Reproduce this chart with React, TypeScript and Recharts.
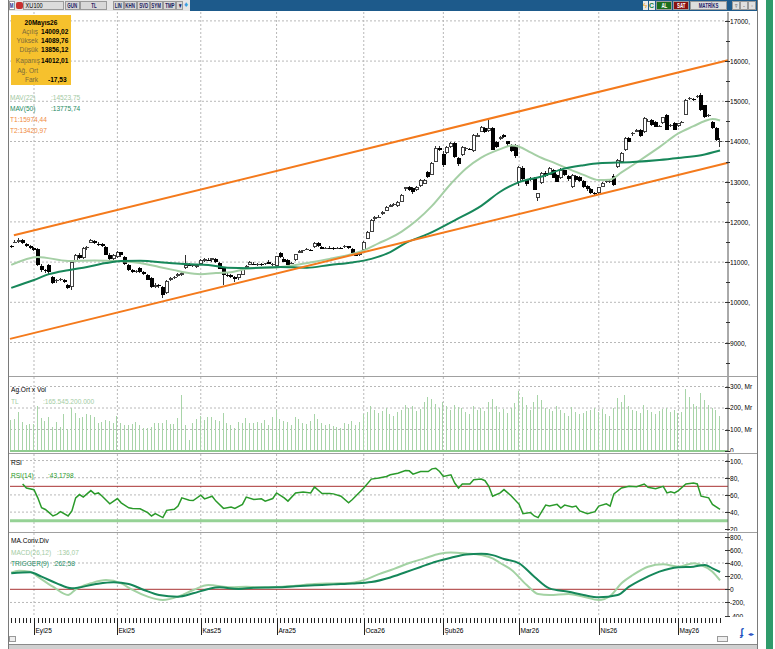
import React from 'react';
import { ComposedChart, Bar, Line, XAxis, YAxis, CartesianGrid, ReferenceLine } from 'recharts';

const FONT = "'Liberation Sans', Arial, sans-serif";
const SX = 0.82; // horizontal condense factor for the narrow UI font

// ---------------- categories ----------------
const monthStarts = [6, 28, 50, 70, 93, 114, 134, 155, 176];
const monthLabels = ['Eyl25', 'Eki25', 'Kas25', 'Ara25', 'Oca26', 'Şub26', 'Mar26', 'Nis26', 'May26'];

// ---------------- OHLC (XU100, daily) ----------------
const opens = [
  11400, 11480, 11520, 11540, 11460, 11400,
  11350, 11320, 10900, 10800, 10920, 10640, 10520, 10560, 10560, 10440, 10380, 11040, 11180, 11100, 11360, 11480, 11520, 11450, 11440, 11380, 11180, 11080,
  11120, 11240, 11120, 10930, 10800, 10780, 10850, 10760, 10680, 10600, 10380, 10420, 10380, 10240, 10560, 10600, 10640, 10700, 10860, 10940, 10920, 10880,
  10960, 11030, 11060, 11050, 11080, 10990, 10860, 10690, 10680, 10640, 10590, 10690, 10850, 10930, 10960, 10950, 10960, 10950, 11000, 10940,
  10890, 11230, 11080, 11050, 10960, 11050, 11230, 11260, 11300, 11310, 11380, 11480, 11380, 11340, 11360, 11350, 11330, 11350, 11370, 11390, 11320, 11210, 11180,
  11290, 11580, 11760, 12060, 12120, 12180, 12280, 12380, 12420, 12400, 12500, 12800, 12870, 12840, 12790, 12890, 12960, 13240, 13170, 13490, 13850,
  13700, 13710, 13870, 13960, 13590, 13660, 13800, 13810, 13750, 14120, 14240, 14340, 14260, 14340, 13990, 14060, 14160, 14000, 13900, 13910,
  12990, 13340, 13040, 13050, 13090, 12600, 12970, 13220, 13170, 13290, 13170, 13110, 13290, 13130, 12870, 13130, 13110, 13020, 12890, 12820, 12710,
  12720, 12890, 12980, 13000, 13150, 13370, 13490, 13790, 14090, 14180, 14240, 14290, 14240, 14500, 14530, 14480, 14380, 14460, 14660, 14380, 14460,
  14380, 14470, 14660, 15050, 15060, 15110, 15150, 14900, 14640, 14490, 14340, 14009.02,
];
const highs = [
  11430, 11540, 11600, 11570, 11480, 11420,
  11380, 11340, 10950, 10840, 10960, 10660, 10580, 10600, 10580, 10460, 11020, 11200, 11230, 11370, 11400, 11580, 11540, 11500, 11470, 11400, 11220, 11200,
  11270, 11260, 11140, 10950, 10830, 10810, 10880, 10790, 10700, 10620, 10470, 10450, 10400, 10560, 10640, 10650, 10720, 10760, 11180, 10970, 10960, 10950,
  11080, 11100, 11090, 11110, 11100, 11010, 10880, 10720, 10700, 10660, 10710, 10860, 10920, 11020, 11000, 10990, 10990, 10990, 11040, 10980,
  11160, 11260, 11120, 11070, 11000, 11210, 11290, 11310, 11340, 11330, 11500, 11510, 11400, 11380, 11390, 11380, 11370, 11380, 11420, 11410, 11340, 11240, 11250,
  11520, 11770, 12060, 12150, 12160, 12260, 12390, 12440, 12470, 12520, 12690, 12880, 12900, 12880, 12890, 13060, 13070, 13270, 13480, 13880, 13900,
  13760, 13880, 13990, 13990, 13620, 13880, 13860, 13840, 14180, 14200, 14380, 14370, 14540, 14360, 14010, 14140, 14180, 14020, 13930, 13930,
  13400, 13380, 13070, 13120, 13110, 12730, 13240, 13260, 13360, 13310, 13190, 13350, 13300, 13160, 13190, 13160, 13130, 13040, 12930, 12840, 12740,
  12880, 13000, 13030, 13040, 13180, 13560, 13740, 14110, 14110, 14240, 14300, 14310, 14620, 14560, 14560, 14500, 14420, 14620, 14680, 14430, 14480,
  14470, 14500, 15050, 15110, 15090, 15160, 15200, 14920, 14680, 14510, 14360, 14089.76,
];
const lows = [
  11360, 11460, 11480, 11440, 11380, 11320,
  11280, 10880, 10760, 10740, 10720, 10460, 10480, 10520, 10480, 10330, 10300, 11020, 11080, 11080, 11300, 11470, 11440, 11400, 11360, 11170, 11040, 11060,
  11100, 11140, 10920, 10780, 10740, 10740, 10730, 10700, 10540, 10350, 10340, 10360, 10100, 10200, 10540, 10580, 10620, 10660, 10830, 10900, 10890, 10860,
  10940, 11010, 11010, 11020, 10980, 10830, 10430, 10620, 10600, 10500, 10570, 10680, 10820, 10910, 10920, 10910, 10920, 10930, 10940, 10900,
  10870, 11120, 10990, 10910, 10940, 11030, 11220, 11240, 11290, 11270, 11360, 11390, 11320, 11320, 11330, 11300, 11310, 11320, 11350, 11330, 11190, 11140, 11160,
  11270, 11560, 11740, 12020, 12080, 12160, 12260, 12360, 12390, 12380, 12480, 12780, 12770, 12700, 12770, 12870, 12940, 13100, 13150, 13470, 13780,
  13350, 13690, 13850, 13580, 13400, 13640, 13770, 13780, 13720, 14100, 14220, 14220, 14240, 13780, 13840, 14040, 14080, 13900, 13740, 13590,
  12900, 13020, 12900, 13020, 12780, 12540, 12950, 13120, 13150, 13080, 12980, 13080, 13150, 13020, 12850, 12990, 12980, 12850, 12790, 12700, 12650,
  12700, 12870, 12960, 12970, 12890, 13340, 13470, 13770, 13980, 14150, 14220, 14120, 14220, 14480, 14390, 14340, 14360, 14440, 14270, 14360, 14270,
  14360, 14440, 14640, 15030, 15020, 15090, 14760, 14590, 14610, 14320, 14010, 13856.12,
];
const closes = [
  11390, 11500, 11560, 11470, 11400, 11340,
  11310, 10930, 10790, 10780, 10740, 10490, 10550, 10570, 10510, 10370, 11000, 11180, 11100, 11350, 11380, 11550, 11460, 11430, 11380, 11190, 11070, 11170,
  11250, 11160, 10940, 10800, 10760, 10790, 10750, 10720, 10560, 10370, 10440, 10400, 10180, 10540, 10600, 10620, 10700, 10740, 10940, 10930, 10940, 10920,
  11060, 11080, 11030, 11090, 11000, 10850, 10690, 10660, 10640, 10580, 10700, 10840, 10900, 11000, 10950, 10960, 10940, 10970, 10960, 10950,
  11150, 11130, 11010, 10930, 10980, 11200, 11270, 11290, 11320, 11300, 11480, 11400, 11340, 11360, 11350, 11340, 11350, 11330, 11400, 11350, 11210, 11170, 11230,
  11500, 11750, 12050, 12120, 12130, 12240, 12370, 12420, 12450, 12500, 12670, 12860, 12790, 12730, 12870, 13030, 13050, 13120, 13460, 13840, 13810,
  13430, 13860, 13960, 13600, 13430, 13860, 13830, 13800, 14160, 14170, 14360, 14250, 14340, 13800, 13860, 14110, 14110, 13920, 13780, 13640,
  13370, 13060, 12930, 13100, 12800, 12720, 13220, 13150, 13340, 13100, 13000, 13300, 13170, 13050, 13170, 13020, 13000, 12880, 12820, 12710, 12680,
  12860, 12980, 13010, 13020, 12920, 13540, 13710, 14090, 14000, 14200, 14280, 14150, 14590, 14520, 14410, 14360, 14390, 14600, 14290, 14410, 14290,
  14450, 14480, 15030, 15080, 15050, 15130, 14780, 14610, 14650, 14340, 14029.54, 14012.01,
];

// ---------------- volume (Mr TL) ----------------
const volumes = [
  144, 147, 183, 136, 121, 126, 126, 209, 155, 141, 158, 110, 136, 113, 171, 101, 199, 175, 152, 160,
  172, 167, 160, 129, 136, 144, 141, 129, 164, 129, 121, 121, 126, 136, 121, 105, 105, 113, 132, 132,
  132, 144, 126, 126, 152, 260, 121, 51, 129, 147, 164, 144, 160, 160, 144, 141, 175, 129, 121, 105,
  136, 129, 152, 129, 129, 136, 130, 145, 120, 160,
  190, 150, 140, 135, 120, 160, 150, 130, 125, 140, 170, 150, 130, 120, 125, 115, 110, 105, 130, 125, 140, 120, 135,
  170, 180, 210, 190, 175, 185, 200, 170, 165, 180, 190, 215, 200, 210, 185, 195, 230, 250, 240, 220, 200,
  230, 210, 190, 215, 205, 200, 180, 170, 210, 190, 200, 185, 230, 240, 210, 180, 195, 175, 200, 225,
  280, 250, 215, 190, 230, 260, 235, 200, 195, 185, 210, 190, 175, 165, 205, 180, 170, 175, 185, 190, 200,
  180, 195, 170, 165, 200, 245, 230, 260, 210, 190, 185, 175, 215, 190, 180, 170, 185, 195, 200, 180, 190,
  175, 180, 290, 250, 220, 210, 270, 235, 215, 200, 190, 165,
];

// ---------------- indicators: [bar index, value] ----------------
const ma22Pts = [
  [0, 10930], [7, 11130], [15, 11030], [22, 11040], [28, 11030], [34, 10980], [39, 10880], [43, 10800], [46, 10740],
  [50, 10700], [54, 10730], [58, 10750], [63, 10850], [67, 10860], [71, 10880], [75, 10930], [80, 11010], [84, 11080],
  [89, 11180], [93, 11290], [97, 11470], [100, 11600], [103, 11760], [107, 12040], [111, 12400], [116, 12950],
  [120, 13330], [124, 13600], [129, 13810], [132, 13900], [134, 13870], [137, 13730], [140, 13590], [143, 13480],
  [147, 13320], [151, 13170], [155, 13040], [158, 13050], [161, 13230], [166, 13540], [171, 13860], [176, 14200],
  [180, 14380], [183, 14510], [185, 14560], [187, 14523.75],
];
const ma50Pts = [
  [0, 10360], [6, 10555], [10, 10700], [15, 10800], [20, 10880], [25, 10975], [29, 11025], [34, 11035], [41, 10985],
  [46, 10950], [52, 10930], [57, 10860], [63, 10850], [71, 10880], [78, 10860], [84, 10930], [90, 10990], [95, 11080],
  [100, 11250], [104, 11470], [110, 11700], [117, 12040], [124, 12400], [129, 12750], [134, 12990], [140, 13130],
  [145, 13300], [151, 13410], [155, 13460], [164, 13490], [171, 13540], [176, 13590], [182, 13660], [187, 13775.74],
];
const rsiPts = [
  [3, 72.7], [4, 68], [6, 66], [7, 56.6], [8, 45], [9, 43], [10, 39.4], [11, 35.5], [12, 37.4], [13, 40.5], [15, 35.5],
  [16, 41.3], [17, 56.6], [18, 60.4], [19, 57.4], [21, 65], [22, 61.2], [23, 62.3], [24, 58.5], [26, 49.7], [28, 55.8],
  [29, 50.8], [31, 45], [32, 44.3], [34, 43.9], [36, 39.4], [37, 35.5], [38, 38.2], [40, 33.6], [41, 42], [43, 43.2],
  [44, 47], [45, 56.6], [47, 53.9], [48, 53.5], [50, 59.7], [51, 55.4], [53, 58.5], [54, 52.8], [56, 44.3], [58, 45.9],
  [59, 44.3], [61, 49], [62, 57.4], [64, 54.7], [66, 55.4], [67, 52.8], [69, 55.8], [70, 62.3], [72, 56.6], [73, 52.8],
  [75, 62.3], [77, 63.5], [79, 62.3], [80, 69.2], [82, 61.6], [84, 61.6], [85, 61.2], [87, 58.5], [89, 50.8], [90, 54.7],
  [93, 68], [95, 78.4], [97, 79.6], [99, 81.5], [100, 83.4], [102, 85.3], [104, 88.4], [105, 88], [106, 84.2], [108, 87.2],
  [110, 87.2], [111, 90.3], [112, 91.1], [113, 87.2], [114, 81.5], [116, 83.4], [117, 73.8], [118, 68], [119, 72.7],
  [121, 72.7], [122, 77.7], [124, 78.4], [125, 76.5], [126, 70], [127, 58.5], [129, 62.3], [130, 66.2], [132, 58.5],
  [134, 49], [135, 38.2], [137, 39.4], [138, 35.5], [139, 33.6], [141, 48.2], [142, 47], [144, 49], [145, 44.8], [146, 48.2],
  [148, 45.9], [149, 47], [150, 41.3], [152, 38.2], [154, 40.5], [155, 47], [157, 49.7], [158, 47], [159, 61.2], [161, 68.1],
  [163, 70], [165, 69.6], [167, 72.7], [168, 68.9], [170, 67.3], [172, 70], [173, 62.3], [174, 63.5], [175, 62.3], [176, 65],
  [178, 72.7], [180, 73.8], [181, 72.7], [182, 58.5], [184, 56.6], [185, 49], [187, 43.18],
];
const macdPts = [
  [0, 253], [2, 283], [5, 268], [7, 192], [11, 40], [15, -87], [17, 0], [21, 91], [25, 141], [29, 91], [32, -10],
  [36, -112], [40, -163], [44, -112], [48, -10], [52, 65], [58, 30], [62, 40], [65, 30], [70, 35], [75, 55], [80, 80],
  [85, 90], [90, 100], [93, 140], [97, 230], [101, 310], [105, 400], [109, 470], [113, 540], [116, 560], [120, 545],
  [124, 520], [127, 470], [129, 400], [132, 294], [136, 65], [139, -71], [142, -87], [147, -71], [151, -112], [155, -163],
  [158, -102], [161, 91], [164, 217], [168, 344], [172, 380], [176, 344], [180, 395], [182, 370], [185, 268], [187, 136.07],
];
const triggerPts = [
  [0, 243], [5, 258], [8, 192], [12, 91], [16, 15], [22, 76], [27, 106], [31, 81], [35, -10], [39, -87], [44, -112],
  [48, -61], [52, 5], [55, 30], [60, 5], [64, 24], [70, 30], [75, 45], [80, 60], [85, 75], [90, 88], [95, 110], [100, 180],
  [104, 260], [108, 340], [112, 420], [116, 480], [120, 530], [124, 540], [127, 520], [130, 460], [134, 395], [138, 192],
  [142, 15], [147, -36], [151, -87], [155, -122], [160, -87], [163, 40], [167, 167], [171, 268], [176, 335], [180, 344],
  [183, 370], [185, 319], [187, 262.58],
];

// trend channel endpoints [bar index, value]
const channelUpper = [[0.7, 11667], [189.1, 16023]];
const channelLower = [[-0.33, 9090], [189.1, 13470]];

// axis ticks
const priceTicks = [8500, 9000, 9500, 10000, 10500, 11000, 11500, 12000, 12500, 13000, 13500, 14000, 14500, 15000, 15500, 16000, 16500, 17000];
const priceGrid = [9000, 10000, 11000, 12000, 13000, 14000, 15000, 16000, 17000];
const volTicks = [0, 100, 200, 300];
const rsiTicks = [20, 40, 60, 80, 100];
const macdTicks = [-400, -200, 0, 200, 400, 600, 800];

const X_DOMAIN: [number, number] = [-0.33, 189.1];

// ---------------- build rows ----------------
const rows: any[] = closes.map((c, i) => ({
  i, o: opens[i], h: highs[i], l: lows[i], c, range: [lows[i], highs[i]], vol: volumes[i],
}));
ma22Pts.forEach(([i, v]) => { rows[i].ma22 = v; });
ma50Pts.forEach(([i, v]) => { rows[i].ma50 = v; });
rsiPts.forEach(([i, v]) => { rows[i].rsi = v; });
macdPts.forEach(([i, v]) => { rows[i].macd = v; });
triggerPts.forEach(([i, v]) => { rows[i].trigger = v; });
const allIdx = rows.map((r) => r.i);

// ---------------- shapes ----------------
function Candle(props: any) {
  const { x, y, width, height, payload } = props;
  if (!payload || x == null || y == null) return null;
  const { o, h, l, c } = payload;
  const top = Math.min(y, y + height);
  const span = Math.abs(height);
  const ppu = h - l > 0 ? span / (h - l) : 0;
  const yO = top + (h - o) * ppu;
  const yC = top + (h - c) * ppu;
  const bTop = Math.round(Math.min(yO, yC));
  const bH = Math.max(Math.round(Math.abs(yO - yC)), 1);
  const cx = Math.floor(x + width / 2);
  const up = c >= o;
  return (
    <g shapeRendering="crispEdges">
      <rect x={cx} y={Math.round(top)} width={1} height={Math.max(Math.round(span), 1)} fill="#303030" />
      <rect x={cx - 1} y={bTop} width={4} height={bH} fill={up ? '#404040' : '#000'} />
      {up && bH > 2 ? <rect x={cx} y={bTop + 1} width={2} height={bH - 2} fill="#fff" /> : null}
    </g>
  );
}

function VolBar(props: any) {
  const { x, y, width, height } = props;
  if (x == null || height == null) return null;
  return <rect x={Math.floor(x + width / 2)} y={y} width={1} height={Math.max(height, 0)} fill="#a8d4a8" shapeRendering="crispEdges" />;
}

const NText = ({ x, y, children, fill = '#000', size = 8 }: any) => (
  <text transform={`translate(${x},${y}) scale(${SX},1)`} fontSize={size} fontFamily={FONT} fill={fill}>{children}</text>
);

const makeRightTick = (fmt: (v: number) => string, isMinor?: (v: number) => boolean, dy = 3) => (props: any) => {
  const { x, y, payload } = props;
  const v = payload.value;
  const yy = Math.round(y) + 0.5;
  if (isMinor && isMinor(v)) {
    return <line x1={x - 2} x2={x + 2} y1={yy} y2={yy} stroke="#333" />;
  }
  return (
    <g>
      <line x1={x - 3} x2={x + 2} y1={yy} y2={yy} stroke="#333" />
      <NText x={x + 2} y={y + dy}>{fmt(v)}</NText>
    </g>
  );
};

function XTick(props: any) {
  const { x, y, payload } = props;
  const k = monthStarts.indexOf(payload.value);
  const xx = Math.round(x) + 0.5;
  if (k >= 0) {
    return (
      <g>
        <line x1={xx} x2={xx} y1={y + 1} y2={y + 18} stroke="#222" />
        <NText x={xx + 1} y={y + 16}>{monthLabels[k]}</NText>
      </g>
    );
  }
  return <line x1={xx} x2={xx} y1={y + 1} y2={y + 6} stroke="#222" />;
}

// ---------------- text helpers ----------------
const T = ({ x, y, c = '#000', b = false, s = 8, w, ta = 'left', children }: any) => (
  <div style={{
    position: 'absolute', left: x, top: y - 5, width: w, textAlign: ta, fontSize: s, lineHeight: '10px', color: c,
    fontWeight: b ? 700 : 400, whiteSpace: 'nowrap', fontFamily: FONT,
    transform: `scaleX(${SX})`, transformOrigin: ta === 'right' ? '100% 0' : ta === 'center' ? '50% 0' : '0 0',
  }}>{children}</div>
);

const Btn = ({ x, w, label, bg = '#d8d8d8', c = '#202060', top = 1, h = 9 }: any) => (
  <div style={{
    position: 'absolute', left: x, top, width: w, height: h, background: bg, border: '1px solid #9a9a9a', boxSizing: 'border-box',
    overflow: 'hidden', display: 'flex', justifyContent: 'center',
  }}>
    <div style={{
      fontSize: 6.5, lineHeight: '7px', color: c, fontFamily: FONT, fontWeight: 700,
      transform: 'scaleX(0.68)', transformOrigin: '50% 0', whiteSpace: 'nowrap', flex: '0 0 auto',
    }}>{label}</div>
  </div>
);

const gridProps = { stroke: '#b8b8b8', strokeDasharray: '2 2' };
const yAxisCommon = {
  orientation: 'right' as const, width: 29, type: 'number' as const, allowDataOverflow: true, interval: 0 as const,
  tickLine: false, tickSize: 0, tickMargin: 0, axisLine: { stroke: '#555' },
};
const xAxisHidden = <XAxis dataKey="i" type="number" domain={X_DOMAIN} allowDataOverflow hide />;

export default function App() {
  return (
    <div style={{ position: 'absolute', left: 0, top: 0, width: 775, height: 649, background: '#fff', overflow: 'hidden', fontFamily: FONT }}>
      {/* window frame */}
      <div style={{ position: 'absolute', left: 8, top: 0, width: 1, height: 649, background: '#7a7a7a' }} />
      <div style={{ position: 'absolute', left: 757, top: 0, width: 1, height: 649, background: '#7a7a7a' }} />
      <div style={{ position: 'absolute', left: 766, top: 0, width: 7, height: 649, background: '#2f9b6b' }} />

      {/* toolbar */}
      <div style={{ position: 'absolute', left: 9, top: 0, width: 748, height: 11, background: '#1d5a8b' }} />
      <div style={{ position: 'absolute', left: 9, top: 0, width: 181, height: 11, background: '#e6e6e6' }} />
      <Btn x={9} w={6} label="M" bg="#fff" c="#1a2a8a" />
      <div style={{ position: 'absolute', left: 16, top: 2, width: 7, height: 7, background: '#c83030', borderRadius: 2 }} />
      <div style={{ position: 'absolute', left: 23, top: 1, width: 41, height: 9, background: '#dcdcdc', border: '1px solid #9a9a9a', boxSizing: 'border-box', overflow: 'hidden' }}>
        <div style={{ fontSize: 7, lineHeight: '7px', paddingLeft: 2, fontFamily: FONT, transform: 'scaleX(0.8)', transformOrigin: '0 0' }}>XU100</div>
      </div>
      <Btn x={65} w={15} label="GUN" />
      <Btn x={80} w={27} label="TL" />
      <Btn x={113} w={11} label="LIN" />
      <Btn x={124} w={13} label="KHN" />
      <Btn x={137} w={13} label="SVD" />
      <Btn x={150} w={13} label="SYM" />
      <Btn x={163} w={13} label="TMP" />
      <Btn x={176} w={7} label="▾" />
      <div style={{ position: 'absolute', left: 184, top: 1, width: 6, height: 8, color: '#3aa0e0', fontSize: 8, lineHeight: '8px' }}>♦</div>
      <div style={{ position: 'absolute', left: 643, top: 1, width: 5, height: 9, color: '#f0a020', fontSize: 8, lineHeight: '9px', background: '#e8e8e8' }}>ϟ</div>
      <div style={{ position: 'absolute', left: 649, top: 1, width: 6, height: 9, color: '#208040', fontSize: 7, lineHeight: '9px', background: '#e8e8e8', fontWeight: 700 }}>C</div>
      <Btn x={656} w={16} label="AL" bg="#1c6e1c" c="#fff" />
      <Btn x={673} w={16} label="SAT" bg="#8a1010" c="#fff" />
      <Btn x={690} w={37} label="MATRİKS" bg="#dedede" c="#23236a" />
      <Btn x={732} w={8} label="▿" bg="#e0e0e0" c="#888" />
      <Btn x={740} w={8} label="-" bg="#e0e0e0" c="#888" />
      <Btn x={748} w={8} label="▫" bg="#e0e0e0" c="#888" />

      {/* panel separators */}
      <div style={{ position: 'absolute', left: 9, top: 376, width: 748, height: 1, background: '#a0a0a0' }} />
      <div style={{ position: 'absolute', left: 9, top: 453, width: 748, height: 1, background: '#a0a0a0' }} />
      <div style={{ position: 'absolute', left: 9, top: 532, width: 748, height: 1, background: '#a0a0a0' }} />

      {/* MAIN PRICE PANEL */}
      <div style={{ position: 'absolute', left: 9, top: 12 }}>
        <ComposedChart width={748} height={364} data={rows} margin={{ top: 0, right: 0, bottom: 0, left: 1 }}>
          <CartesianGrid {...gridProps} horizontalValues={priceGrid} verticalValues={monthStarts} />
          {xAxisHidden}
          <YAxis {...yAxisCommon} domain={[8167, 17221]} ticks={priceTicks}
            tick={makeRightTick((v) => `${v},`, (v) => v % 1000 !== 0)} />
          <Line dataKey="ma22" type="monotone" stroke="#a5cfa5" strokeWidth={2} dot={false} connectNulls isAnimationActive={false} />
          <Line dataKey="ma50" type="monotone" stroke="#17875a" strokeWidth={2} dot={false} connectNulls isAnimationActive={false} />
          <ReferenceLine segment={[{ x: channelUpper[0][0], y: channelUpper[0][1] }, { x: channelUpper[1][0], y: channelUpper[1][1] }]} stroke="#f47a1c" strokeWidth={2} />
          <ReferenceLine segment={[{ x: channelLower[0][0], y: channelLower[0][1] }, { x: channelLower[1][0], y: channelLower[1][1] }]} stroke="#f47a1c" strokeWidth={2} />
          <Bar dataKey="range" barSize={4} shape={Candle} isAnimationActive={false} />
        </ComposedChart>
      </div>

      {/* VOLUME PANEL */}
      <div style={{ position: 'absolute', left: 9, top: 377 }}>
        <ComposedChart width={748} height={75} data={rows} margin={{ top: 0, right: 0, bottom: 0, left: 1 }}>
          <CartesianGrid {...gridProps} horizontalValues={[100, 200, 300]} verticalValues={monthStarts} />
          {xAxisHidden}
          <YAxis {...yAxisCommon} domain={[-4.65, 344.2]} ticks={volTicks}
            tick={makeRightTick((v) => (v === 0 ? '0' : `${v}, Mr`), undefined, 2)} />
          <Bar dataKey="vol" barSize={1} shape={VolBar} isAnimationActive={false} />
          <ReferenceLine y={0} stroke="#8fcc8f" strokeWidth={2} />
        </ComposedChart>
      </div>

      {/* RSI PANEL */}
      <div style={{ position: 'absolute', left: 9, top: 454 }}>
        <ComposedChart width={748} height={77} data={rows} margin={{ top: 0, right: 0, bottom: 0, left: 1 }}>
          <CartesianGrid {...gridProps} horizontalValues={[40, 60, 80, 100]} verticalValues={monthStarts} />
          {xAxisHidden}
          <YAxis {...yAxisCommon} domain={[18, 107.6]} ticks={rsiTicks}
            tick={makeRightTick((v) => `${v},`)} />
          <ReferenceLine y={70} stroke="#a83232" strokeWidth={1} />
          <ReferenceLine y={30} stroke="#96d296" strokeWidth={3} />
          <Line dataKey="rsi" type="linear" stroke="#2a9a2a" strokeWidth={1.5} dot={false} connectNulls isAnimationActive={false} />
        </ComposedChart>
      </div>

      {/* MACD PANEL + DATE AXIS */}
      <div style={{ position: 'absolute', left: 9, top: 533 }}>
        <ComposedChart width={748} height={102} data={rows} margin={{ top: 0, right: 0, bottom: 0, left: 1 }}>
          <CartesianGrid {...gridProps} horizontalValues={[400, -200]} verticalValues={monthStarts} />
          <XAxis dataKey="i" type="number" domain={X_DOMAIN} allowDataOverflow ticks={allIdx} interval={0} height={18}
            tick={<XTick />} tickLine={false} axisLine={false} tickSize={0} tickMargin={0} />
          <YAxis {...yAxisCommon} domain={[-421, 856]} ticks={macdTicks}
            tick={makeRightTick((v) => (v === 0 ? '0' : `${v},`))} />
          <ReferenceLine y={0} stroke="#a83232" strokeWidth={1} />
          <Line dataKey="macd" type="monotone" stroke="#a3d2a3" strokeWidth={2} dot={false} connectNulls isAnimationActive={false} />
          <Line dataKey="trigger" type="monotone" stroke="#15875a" strokeWidth={2} dot={false} connectNulls isAnimationActive={false} />
        </ComposedChart>
      </div>
      {/* hide axis overflow below MACD plot on the right */}
      <div style={{ position: 'absolute', left: 728, top: 617, width: 29, height: 19, background: '#fff' }} />

      {/* bottom strip */}
      <div style={{ position: 'absolute', left: 9, top: 644, width: 748, height: 5, background: '#d0d0d0', borderTop: '1px solid #8a8a8a' }} />
      <div style={{ position: 'absolute', left: 9, top: 636, width: 7, height: 6, border: '1px solid #999', background: '#eee', boxSizing: 'border-box' }} />
      <div style={{ position: 'absolute', left: 717, top: 636, width: 11, height: 6, border: '1px solid #999', background: '#eee', boxSizing: 'border-box' }} />
      <div style={{ position: 'absolute', left: 740, top: 627, width: 7, height: 11, color: '#2050c0', fontSize: 10, lineHeight: '11px', fontWeight: 700 }}>ʄ</div>
      <div style={{ position: 'absolute', left: 748, top: 630, width: 9, height: 8, color: '#2050c0', fontSize: 6, lineHeight: '8px', whiteSpace: 'nowrap' }}>◂▸</div>

      {/* info box */}
      <div style={{ position: 'absolute', left: 11, top: 15, width: 60, height: 70, background: '#f6c12d' }} />
      <T x={11} y={22.7} w={60} ta="center" b>20Mayıs26</T>
      <T x={11} y={32.3} w={27} ta="right" c="#7a6a3c">Açılış</T>
      <T x={41} y={32.3} b>14009,02</T>
      <T x={11} y={40.7} w={27} ta="right" c="#7a6a3c">Yüksek</T>
      <T x={41} y={40.7} b>14089,76</T>
      <T x={11} y={50} w={27} ta="right" c="#7a6a3c">Düşük</T>
      <T x={41} y={50} b>13856,12</T>
      <T x={11} y={60.7} w={27} ta="right" c="#7a6a3c">Kapanış</T>
      <T x={41} y={60.7} b>14012,01</T>
      <T x={11} y={70.7} w={27} ta="right" c="#7a6a3c">Ağ. Ort</T>
      <T x={11} y={80} w={27} ta="right" c="#7a6a3c">Fark</T>
      <T x={48} y={80} b>-17,53</T>

      {/* main legend */}
      <T x={10} y={98} c="#a3c9a3">MAV(22)</T>
      <T x={51} y={98} c="#a3c9a3">:14523,75</T>
      <T x={10} y={109} c="#1d8a62">MAV(50)</T>
      <T x={51} y={109} c="#1d8a62">:13775,74</T>
      <T x={10} y={120} c="#f08a40">T1:15974,44</T>
      <T x={10} y={131} c="#f08a40">T2:13420,97</T>

      {/* volume legend */}
      <T x={11} y={390} c="#000">Ag.Ort x Vol</T>
      <T x={11} y={401.5} c="#a3cca3">TL</T>
      <T x={43} y={401.5} c="#a3cca3">:165.545.200.000</T>

      {/* RSI legend */}
      <T x={11} y={463} c="#000">RSI</T>
      <T x={11} y={475.7} c="#2a9a2a">RSI(14)</T>
      <T x={48} y={475.7} c="#2a9a2a">:43,1798</T>

      {/* MACD legend */}
      <T x={11} y={541} c="#000">MA.Conv.Div</T>
      <T x={11} y={552.7} c="#a3cca3">MACD(26,12)</T>
      <T x={57} y={552.7} c="#a3cca3">:136,07</T>
      <T x={11} y={563.5} c="#1d8a62">TRIGGER(9)</T>
      <T x={53} y={563.5} c="#1d8a62">:262,58</T>
    </div>
  );
}
